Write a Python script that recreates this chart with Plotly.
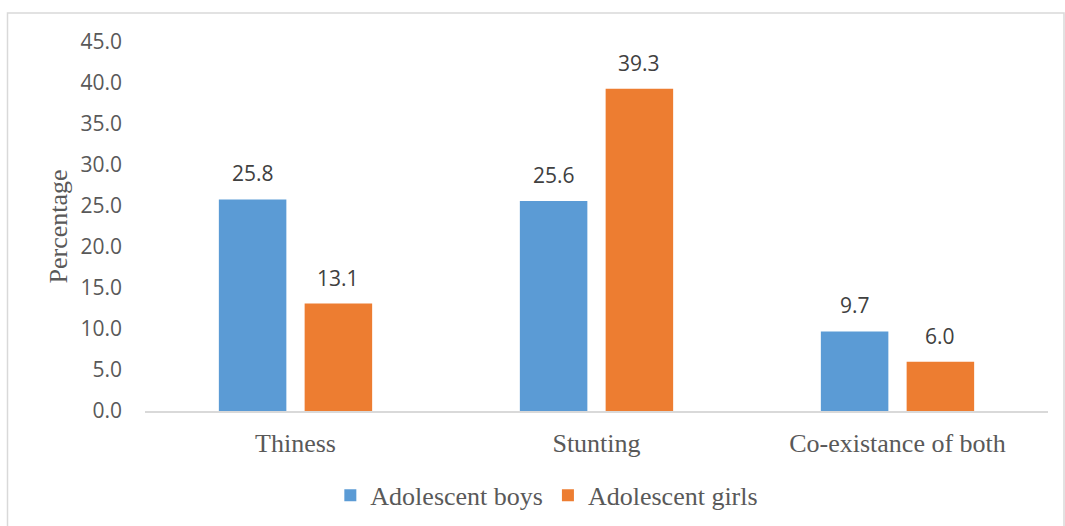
import plotly.graph_objects as go

categories = ["Thiness", "Stunting", "Co-existance of both"]
boys = [25.8, 25.6, 9.7]
girls = [13.1, 39.3, 6.0]
series_names = ["Adolescent boys", "Adolescent girls"]
y_ticks = [0, 5, 10, 15, 20, 25, 30, 35, 40, 45]

colors = ["#5B9BD5", "#ED7D31"]
SERIF = "Liberation Serif, Times New Roman, serif"
SANS = "Open Sans, Liberation Sans, sans-serif"

fig = go.Figure()
for name, vals, col in zip(series_names, [boys, girls], colors):
    fig.add_trace(go.Bar(
        x=categories, y=vals, name=name, marker=dict(color=col, line=dict(width=0)),
    ))

# data labels
annotations = []
for vals, off in [(boys, -0.1426), (girls, 0.1426)]:
    for j, v in enumerate(vals):
        annotations.append(dict(
            x=j + off, y=v, xref="x", yref="y", text=f"{v:.1f}", showarrow=False,
            yanchor="bottom", yshift=10,
            font=dict(family=SANS, size=21, color="#404040"),
        ))

L, R, T, B = 145, 17, 42, 115
W, H = 1065, 526
pw, ph = W - L - R, H - T - B

fig.update_layout(
    width=W, height=H,
    margin=dict(l=L, r=R, t=T, b=B, autoexpand=False),
    paper_bgcolor="white", plot_bgcolor="white",
    barmode="group", bargap=0.43, bargroupgap=0.213,
    showlegend=True,
    legend=dict(orientation="h", x=0.445, xanchor="center", y=-0.165, yanchor="top",
                font=dict(family=SERIF, size=26, color="#595959"),
                itemwidth=30, traceorder="normal"),
    xaxis=dict(showline=True, linecolor="#D9D9D9", linewidth=1.5, showgrid=False, ticks="",
               tickfont=dict(family=SERIF, size=26, color="#595959"),
               ticklabelstandoff=8),
    yaxis=dict(range=[0, 45], tickvals=y_ticks, ticktext=[f"{t:.1f}" for t in y_ticks],
               showgrid=False, zeroline=False, showline=False, ticks="",
               tickfont=dict(family=SANS, size=21, color="#595959"),
               ticklabelstandoff=22,
               title=dict(text="Percentage", standoff=5,
                          font=dict(family=SERIF, size=26, color="#595959"))),
    annotations=annotations,
    shapes=[dict(type="rect", xref="paper", yref="paper",
                 x0=(7.5 - L) / pw, x1=(1064 - L) / pw,
                 y0=(H - B - 530) / ph, y1=(H - B - 13) / ph,
                 line=dict(color="#D9D9D9", width=1.5), fillcolor="rgba(0,0,0,0)", layer="below")],
)

fig.write_html("out.html")
